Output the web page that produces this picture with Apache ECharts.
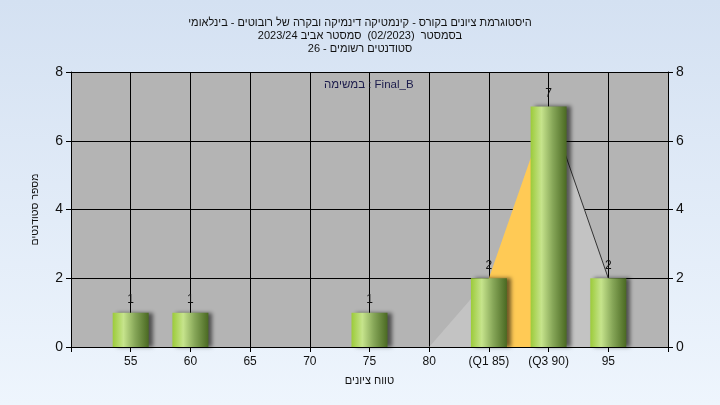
<!DOCTYPE html>
<html dir="rtl">
<head>
<meta charset="utf-8">
<script src="https://cdn.jsdelivr.net/npm/echarts@6/dist/echarts.min.js"></script>
<style>
html,body{margin:0;padding:0;}
body{background:linear-gradient(to bottom,#d4e1f2,#eef5fd);}
#c{width:720px;height:405px;}
</style>
</head>
<body>
<div id="c"></div>
<script>
// ---- data ----
const categories = ['50','55','60','65','70','75','80','85','90','95','100'];
const tickLabels = ['','55','60','65','70','75','80','(Q1 85)','(Q3 90)','95',''];
const counts = [0,1,1,0,0,1,0,2,7,2,0];
const q1Index = 7;
const q3Index = 8;
const polyStart = 6;
const polyEnd = 9;
const titleLines = [
  'היסטוגרמת ציונים בקורס - קינמטיקה דינמיקה ובקרה של רובוטים - בינלאומי',
  'בסמסטר  (02/2023)  סמסטר אביב 2023/24',
  'סטודנטים רשומים - 26'
];
const legendText = 'Final_B : במשימה';
const xName = 'טווח ציונים';
const yName = 'מספר סטודנטים';
const yTicks = [0, 8, 2];

// ---- derived ----
const barData = counts.map(v => v > 0 ? v : null);
function seg(a, b) { return counts.map((v, i) => (i >= a && i <= b) ? v : null); }

const font = '"Liberation Sans", Arial, sans-serif';
const chart = echarts.init(document.getElementById('c'), null, {renderer: 'canvas'});

const barGrad = new echarts.graphic.LinearGradient(0, 0, 1, 0, [
  {offset: 0, color: '#9ccb3a'},
  {offset: 0.3, color: '#c6e48c'},
  {offset: 0.62, color: '#86a658'},
  {offset: 1, color: '#4a6922'}
]);

chart.setOption({
  backgroundColor: 'transparent',
  animation: false,
  textStyle: {fontFamily: font},
  title: {
    text: titleLines.join('\n'),
    left: 'center',
    top: 11,
    textStyle: {fontSize: 11, fontWeight: 'normal', lineHeight: 13, color: '#111', fontFamily: font}
  },
  graphic: [{
    type: 'text',
    left: 324, top: 79,
    z: 10,
    style: {text: legendText, fontSize: 11.5, fill: '#1c1c4c', fontFamily: font}
  }],
  grid: {left: 71, right: 52, top: 72, bottom: 58, show: true, backgroundColor: '#b4b4b4', borderWidth: 0},
  xAxis: {
    type: 'category',
    data: categories,
    boundaryGap: false,
    name: xName,
    nameLocation: 'middle',
    nameGap: 28,
    nameTextStyle: {fontSize: 11, color: '#111', fontFamily: font},
    axisLine: {lineStyle: {color: '#000', width: 1}},
    axisTick: {show: true, length: 5, interval: 0, lineStyle: {color: '#000'}},
    axisLabel: {interval: 0, margin: 9, fontSize: 12, color: '#111', fontFamily: font,
      formatter: (v, i) => tickLabels[i]},
    splitLine: {show: true, interval: 0, lineStyle: {color: '#000', width: 1}}
  },
  yAxis: [{
    type: 'value', min: yTicks[0], max: yTicks[1], interval: yTicks[2],
    name: yName, nameLocation: 'middle', nameGap: 30, nameRotate: 90,
    nameTextStyle: {fontSize: 10.5, color: '#111', fontFamily: font},
    axisLine: {show: true, lineStyle: {color: '#000'}},
    axisTick: {show: true, length: 5, lineStyle: {color: '#000'}},
    axisLabel: {fontSize: 14, color: '#111', margin: 8, fontFamily: font},
    splitLine: {show: true, lineStyle: {color: '#000', width: 1}}
  }, {
    type: 'value', min: yTicks[0], max: yTicks[1], interval: yTicks[2], position: 'right',
    axisLine: {show: true, lineStyle: {color: '#000'}},
    axisTick: {show: true, length: 5, lineStyle: {color: '#000'}},
    axisLabel: {fontSize: 14, color: '#111', margin: 8, fontFamily: font},
    splitLine: {show: false}
  }],
  series: [
    {type: 'line', data: seg(polyStart, q1Index), symbol: 'none', z: 1,
      lineStyle: {width: 0, opacity: 0}, areaStyle: {color: '#c3c3c3', opacity: 1}},
    {type: 'line', data: seg(q1Index, q3Index), symbol: 'none', z: 1,
      lineStyle: {width: 0, opacity: 0}, areaStyle: {color: '#ffca55', opacity: 1}},
    {type: 'line', data: seg(q3Index, polyEnd), symbol: 'none', z: 1,
      lineStyle: {width: 1, color: '#333'}, areaStyle: {color: '#c3c3c3', opacity: 1}},
    {type: 'bar', data: barData, barWidth: 36, z: 3,
      itemStyle: {color: barGrad, shadowColor: 'rgba(0,0,0,0.55)', shadowBlur: 4, shadowOffsetX: 4, shadowOffsetY: 0},
      label: {show: true, position: 'top', distance: 7, fontSize: 12, color: '#111', fontFamily: font}}
  ]
});
</script>
</body>
</html>
